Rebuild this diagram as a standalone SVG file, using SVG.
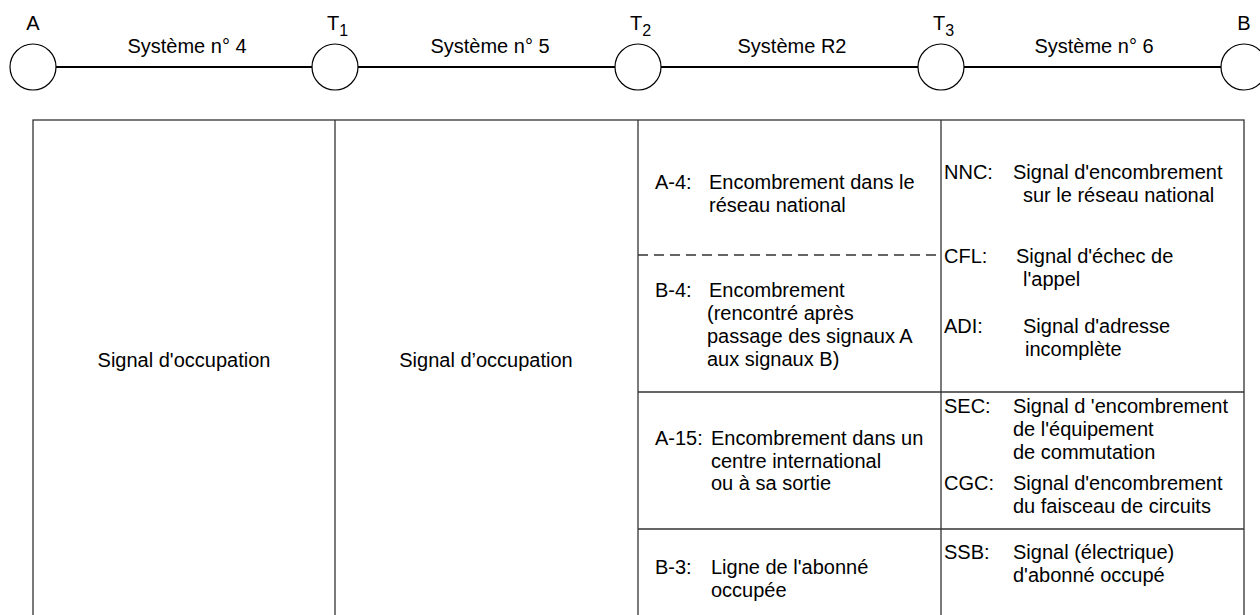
<svg xmlns="http://www.w3.org/2000/svg" width="1260" height="615" viewBox="0 0 1260 615">
<style>
text{font-family:"Liberation Sans",Arial,sans-serif;font-size:20px;fill:#000}
.c{text-anchor:middle}
.node{fill:#fff;stroke:#000;stroke-width:1.2}
.link{stroke:#000;stroke-width:2;fill:none}
.grid{stroke:#333;stroke-width:1.3;fill:none}
.dash{stroke:#333;stroke-width:1.3;stroke-dasharray:10 6;fill:none}
</style>
<rect width="1260" height="615" fill="#fff"/>
<g id="connectors">
<line class="link" x1="56" y1="67" x2="312" y2="67"/>
<line class="link" x1="358" y1="67" x2="615" y2="67"/>
<line class="link" x1="661" y1="67" x2="918" y2="67"/>
<line class="link" x1="964" y1="67" x2="1221" y2="67"/>
<text class="c" x="187" y="53">Système n° 4</text>
<text class="c" x="490" y="53">Système n° 5</text>
<text class="c" x="792" y="53">Système R2</text>
<text class="c" x="1094" y="53">Système n° 6</text>
</g>
<g id="node-A"><circle class="node" cx="33" cy="67" r="23"/><text class="c" x="33" y="30">A</text></g>
<g id="node-T1"><circle class="node" cx="335" cy="67" r="23"/><text x="327" y="30">T<tspan font-size="16" dy="6">1</tspan></text></g>
<g id="node-T2"><circle class="node" cx="638" cy="67" r="23"/><text x="630" y="30">T<tspan font-size="16" dy="6">2</tspan></text></g>
<g id="node-T3"><circle class="node" cx="941" cy="67" r="23"/><text x="933" y="30">T<tspan font-size="16" dy="6">3</tspan></text></g>
<g id="node-B"><circle class="node" cx="1244" cy="67" r="23"/><text class="c" x="1244" y="30">B</text></g>
<g id="table">
<rect class="grid" x="33" y="120" width="1211" height="500"/>
<line class="grid" x1="335" y1="120" x2="335" y2="615"/>
<line class="grid" x1="638" y1="120" x2="638" y2="615"/>
<line class="grid" x1="941" y1="120" x2="941" y2="615"/>
<line class="dash" x1="638" y1="255" x2="937" y2="255"/>
<line class="grid" x1="638" y1="392" x2="1244" y2="392"/>
<line class="grid" x1="638" y1="529" x2="1244" y2="529"/>
<text class="c" x="184" y="367">Signal d'occupation</text>
<text class="c" x="486" y="367">Signal d’occupation</text>
<text x="655" y="189">A-4:</text><text x="709" y="189">Encombrement dans le</text>
<text x="709" y="212">réseau national</text>
<text x="655" y="297">B-4:</text><text x="709" y="297">Encombrement</text>
<text x="707" y="320">(rencontré après</text>
<text x="707" y="343">passage des signaux A</text>
<text x="707" y="366">aux signaux B)</text>
<text x="655" y="445">A-15:</text><text x="711" y="445">Encombrement dans un</text>
<text x="711" y="468">centre international</text>
<text x="711" y="490">ou à sa sortie</text>
<text x="655" y="574">B-3:</text><text x="711" y="574">Ligne de l'abonné</text>
<text x="711" y="597">occupée</text>
<text x="944" y="179">NNC:</text><text x="1013" y="179">Signal d'encombrement</text>
<text x="1023" y="202">sur le réseau national</text>
<text x="944" y="263">CFL:</text><text x="1016" y="263">Signal d'échec de</text>
<text x="1023" y="286">l'appel</text>
<text x="944" y="333">ADI:</text><text x="1023" y="333">Signal d'adresse</text>
<text x="1025" y="356">incomplète</text>
<text x="944" y="413">SEC:</text><text x="1013" y="413">Signal d 'encombrement</text>
<text x="1013" y="436">de l'équipement</text>
<text x="1013" y="459">de commutation</text>
<text x="944" y="490">CGC:</text><text x="1013" y="490">Signal d'encombrement</text>
<text x="1013" y="513">du faisceau de circuits</text>
<text x="944" y="559">SSB:</text><text x="1013" y="559">Signal (électrique)</text>
<text x="1013" y="582">d'abonné occupé</text>
</g>
</svg>
